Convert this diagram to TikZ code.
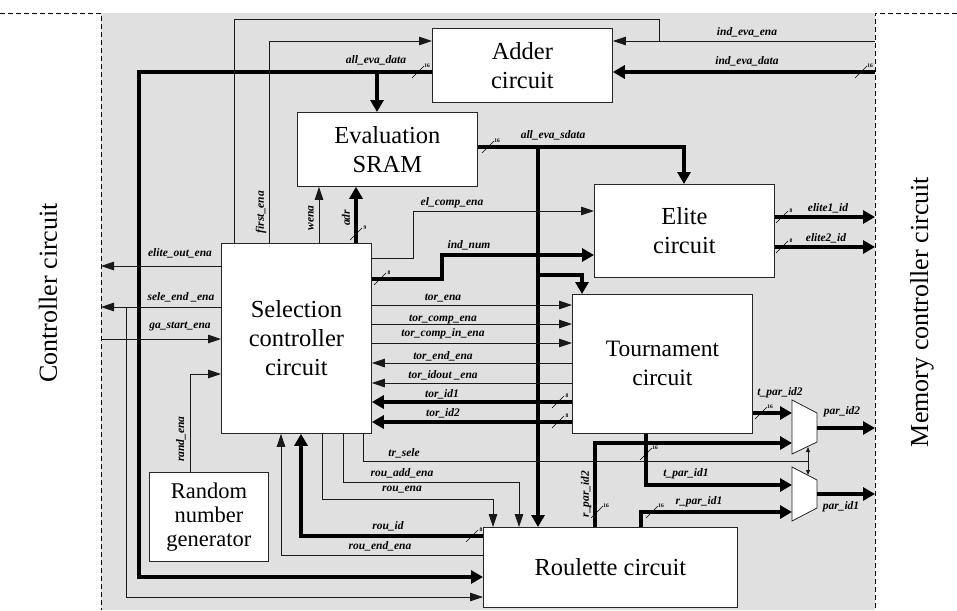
\documentclass[tikz,border=0pt]{standalone}
\usepackage{fontspec}
\setmainfont{Liberation Serif}
\usetikzlibrary{arrows.meta}
\definecolor{bgray}{RGB}{224,224,224}
\newcommand{\bmark}[3]{%
  \draw[line width=0.6pt] (#1-6,#2+6) -- (#1+6,#2-6);
  \node[busw] at (#1+9,#2-6) {#3};}
\begin{document}
\begin{tikzpicture}[x=1pt,y=-1pt,
  box/.style={draw=black!85, line width=0.8pt, fill=white, inner sep=0pt, align=center,
    font=\fontsize{24.5}{29}\selectfont, anchor=north west},
  sig/.style={line width=0.8pt, draw=black!90},
  bus/.style={line width=4pt},
  sarr/.style={-{Triangle[length=13pt,width=8.5pt]}},
  barr/.style={-{Triangle[length=12pt,width=13pt]}},
  lab/.style={font=\fontsize{11.5}{12}\selectfont\bfseries\itshape, inner sep=0pt},
  vlab/.style={lab, rotate=90},
  busw/.style={font=\fontsize{5.5}{5.5}\selectfont\bfseries, inner sep=0pt},
  dashline/.style={line width=0.9pt, dash pattern=on 5pt off 3pt},
  muxs/.style={draw=black!85, line width=0.8pt, fill=white},
  side/.style={rotate=90, font=\fontsize{26}{26}\selectfont, inner sep=0pt}]
\useasboundingbox (0,0) rectangle (957,610);
\fill[bgray] (101,13) rectangle (875,610);
\draw[dashline] (0,13) -- (101,13) -- (101,610);
\draw[dashline] (957,13) -- (875,13) -- (875,610);
\coordinate (ctlR) at (101,0);
\coordinate (memL) at (875,0);

\node[side] (ctl) at (48,293) {Controller circuit};
\node[side] (mem) at (922,312) {Memory controller circuit};

% boxes
\node[box, minimum width=180pt, minimum height=74pt] (adder) at (432,28) {Adder\\circuit};
\node[box, minimum width=180pt, minimum height=74pt] (eval) at (297,112) {Evaluation\\SRAM};
\node[box, minimum width=180pt, minimum height=93pt] (elite) at (594,184) {Elite\\circuit};
\node[box, minimum width=180pt, minimum height=139pt, font=\fontsize{23.5}{29}\selectfont] (tour) at (572,294) {Tournament\\circuit};
\node[box, minimum width=150pt, minimum height=190pt] (sel) at (221,243) {Selection\\controller\\circuit};
\node[box, minimum width=119pt, minimum height=89pt, font=\fontsize{22.5}{24}\selectfont] (rng) at (149,472) {Random\\number\\generator};
\node[box, minimum width=254pt, minimum height=80pt] (roul) at (483,527) {Roulette circuit};

% muxes
\draw[muxs] (792,400) -- (817,413) -- (817,442) -- (792,454) -- cycle;
\draw[muxs] (792,467) -- (817,480) -- (817,508) -- (792,521) -- cycle;
\coordinate (m2a) at (792,413);
\coordinate (m2b) at (792,443);
\coordinate (m2o) at (817,428);
\coordinate (m1a) at (792,485);
\coordinate (m1b) at (792,512);
\coordinate (m1o) at (817,494);

% adder connections
\draw[sig,sarr] (memL |- 0,41) -- (adder.east |- 0,41);
\draw[sig] (659,41) -- (659,19) -- (234,19) -- (234,0 |- sel.north);
\draw[sig,sarr] (269,0 |- sel.north) -- (269,41) -- (adder.west |- 0,41);
\draw[bus,barr] (adder.west |- 0,72) -- (139,72) -- (139,577) -- (roul.west |- 0,577);
\draw[bus,barr] (377,72) -- (377,0 |- eval.north);
\draw[bus,barr] (memL |- 0,72) -- (adder.east |- 0,72);

% evaluation SRAM outputs
\draw[bus,barr] (eval.east |- 0,147) -- (684,147) -- (684,0 |- elite.north);
\draw[bus,barr] (538,147) -- (538,0 |- roul.north);
\draw[bus,barr] (538,275) -- (582,275) -- (582,0 |- tour.north);

% selection -> elite
\draw[sig,sarr] (sel.east |- 0,258) -- (413,258) -- (413,211) -- (elite.west |- 0,211);
\draw[bus,barr] (sel.east |- 0,279) -- (442,279) -- (442,255) -- (elite.west |- 0,255);

% left side
\draw[sig,sarr] (sel.west |- 0,266) -- (ctlR |- 0,266);
\draw[sig,sarr] (sel.west |- 0,307) -- (ctlR |- 0,307);
\draw[sig,sarr] (126,307) -- (126,597) -- (roul.west |- 0,597);
\draw[sig,sarr] (ctlR |- 0,339) -- (sel.west |- 0,339);
\draw[sig,sarr] (190,0 |- rng.north) -- (190,374) -- (sel.west |- 0,374);

% selection -> SRAM
\draw[sig,sarr] (319,0 |- sel.north) -- (319,0 |- eval.south);
\draw[bus,barr] (356,0 |- sel.north) -- (356,0 |- eval.south);

% selection <-> tournament
\foreach \yy in {305,324,343} {\draw[sig,sarr] (sel.east |- 0,\yy) -- (tour.west |- 0,\yy);}
\foreach \yy in {363,383} {\draw[sig,sarr] (tour.west |- 0,\yy) -- (sel.east |- 0,\yy);}
\foreach \yy in {402,422} {\draw[bus,barr] (tour.west |- 0,\yy) -- (sel.east |- 0,\yy);}

% below selection
\draw[sig] (363,0 |- sel.south) -- (363,461) -- (808,461);
\draw[sig,{Triangle[length=5pt,width=4pt]}-{Triangle[length=5pt,width=4pt]}] (808,447) -- (808,475);
\draw[sig,sarr] (343,0 |- sel.south) -- (343,482) -- (519,482) -- (519,0 |- roul.north);
\draw[sig,sarr] (322,0 |- sel.south) -- (322,499) -- (493,499) -- (493,0 |- roul.north);
\draw[bus,barr] (roul.west |- 0,536) -- (301,536) -- (301,0 |- sel.south);
\draw[sig,sarr] (roul.west |- 0,555) -- (281,555) -- (281,0 |- sel.south);

% elite outputs
\draw[bus,barr] (elite.east |- 0,217) -- (memL |- 0,217);
\draw[bus,barr] (elite.east |- 0,247) -- (memL |- 0,247);

% parent ids
\draw[bus,barr] (tour.east |- m2a) -- (m2a);
\draw[bus,barr] (646,0 |- tour.south) -- (646,485) -- (m1a);
\draw[bus,barr] (595,0 |- roul.north) -- (595,443) -- (m2b);
\draw[bus,barr] (641,0 |- roul.north) -- (641,512) -- (m1b);
\draw[bus,barr] (m2o) -- (memL |- m2o);
\draw[bus,barr] (m1o) -- (memL |- m1o);

% bus width marks
\bmark{418}{72}{16}
\bmark{861}{72}{16}
\bmark{488}{147}{16}
\bmark{380}{279}{8}
\bmark{356}{234}{9}
\bmark{782}{217}{8}
\bmark{782}{247}{8}
\bmark{558}{402}{8}
\bmark{558}{422}{8}
\bmark{472}{536}{8}
\bmark{761}{413}{16}
\bmark{646}{454}{16}
\bmark{597}{512}{16}
\bmark{652}{512}{16}

% labels
\node[lab] (l1) at (747,32) {ind\_eva\_ena};
\node[lab] (l2) at (747,61) {ind\_eva\_data};
\node[lab] (l3) at (376,60) {all\_eva\_data};
\node[lab] (l4) at (553,135) {all\_eva\_sdata};
\node[lab] (l5) at (452,203) {el\_comp\_ena};
\node[lab] (l6) at (469,245) {ind\_num};
\node[lab] (l7) at (180,253) {elite\_out\_ena};
\node[lab] (l8) at (181,297) {sele\_end \_ena};
\node[lab] (l9) at (180,326) {ga\_start\_ena};
\node[lab] (l10) at (443,298) {tor\_ena};
\node[lab] (l11) at (443,319) {tor\_comp\_ena};
\node[lab] (l12) at (443,334) {tor\_comp\_in\_ena};
\node[lab] (l13) at (443,356) {tor\_end\_ena};
\node[lab] (l14) at (443,375) {tor\_idout \_ena};
\node[lab] (l15) at (442,394) {tor\_id1};
\node[lab] (l16) at (443,413) {tor\_id2};
\node[lab] (l17) at (404,453) {tr\_sele};
\node[lab] (l18) at (402,473) {rou\_add\_ena};
\node[lab] (l19) at (402,490) {rou\_ena};
\node[lab] (l20) at (388,526) {rou\_id};
\node[lab] (l21) at (380,546) {rou\_end\_ena};
\node[lab] (l22) at (828,208) {elite1\_id};
\node[lab] (l23) at (826,238) {elite2\_id};
\node[lab] (l24) at (780,393) {t\_par\_id2};
\node[lab] (l25) at (842,412) {par\_id2};
\node[lab] (l26) at (686,474) {t\_par\_id1};
\node[lab] (l27) at (699,502) {r\_par\_id1};
\node[lab] (l28) at (841,507) {par\_id1};
\node[vlab] (l29) at (261,212) {first\_ena};
\node[vlab] (l30) at (311,218) {wena};
\node[vlab] (l31) at (346,218) {adr};
\node[vlab] (l32) at (181,439) {rand\_ena};
\node[vlab] (l33) at (586,494) {r\_par\_id2};
\end{tikzpicture}
\end{document}
